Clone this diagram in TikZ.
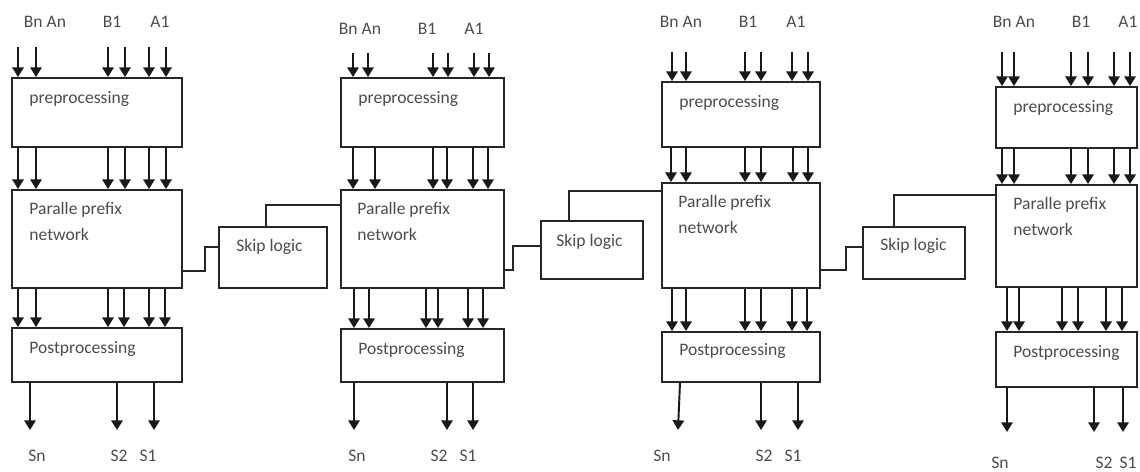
\documentclass[tikz,border=0pt]{standalone}
\usepackage{fontspec}
\setmainfont{Carlito}
\usetikzlibrary{arrows.meta,fit,calc,positioning}

\begin{document}
\begin{tikzpicture}[x=0.02cm,y=-0.02cm]
	\tikzset{arr/.style={-{Triangle[width=6.5pt,length=5.5pt]},line width=1.1pt,draw=black!90}}
	\tikzstyle{blockbox} = [draw=black!85,line width=1.1pt,inner sep=0pt]
	\tikzstyle{wire} = [draw=black!85,line width=1pt]
	\tikzstyle{boxtext} = [anchor=west,inner sep=0pt,text=black!70,font=\fontsize{10}{14.7}\selectfont]
	\tikzstyle{twotext} = [anchor=north west,inner sep=0pt,align=left,text=black!70,font=\fontsize{10}{14.7}\selectfont]
	\tikzstyle{iolabel} = [inner sep=0pt,text=black!70,font=\fontsize{10}{12}\selectfont]
	\useasboundingbox (0,0) rectangle (1140,472);
	% Block 1
	\node[blockbox,fit={(12,78) (182,147)}] (pre1) {};
	\node[blockbox,fit={(12,190) (182,288)}] (ppn1) {};
	\node[blockbox,fit={(12,328) (182,382)}] (post1) {};
	\node[boxtext] at ([shift={(18,22)}]pre1.north west) (pre1_t) {preprocessing};
	\node[twotext] at ([shift={(18,13)}]ppn1.north west) (ppn1_t) {Paralle prefix\\network};
	\node[boxtext] at ([shift={(18,22)}]post1.north west) (post1_t) {Postprocessing};
	\node[iolabel] at (45,22) (bnan1) {Bn An};
	\node[iolabel] at (112,22) (b1_1) {B1};
	\node[iolabel] at (160,22) (a1_1) {A1};
	\coordinate (in1_1) at (18,47);
	\coordinate (in1_2) at (36,47);
	\coordinate (in1_3) at (108,47);
	\coordinate (in1_4) at (125,47);
	\coordinate (in1_5) at (149,47);
	\coordinate (in1_6) at (166,47);
	\draw[arr] (in1_1) -- (in1_1 |- pre1.north);
	\draw[arr] (in1_2) -- (in1_2 |- pre1.north);
	\draw[arr] (in1_3) -- (in1_3 |- pre1.north);
	\draw[arr] (in1_4) -- (in1_4 |- pre1.north);
	\draw[arr] (in1_5) -- (in1_5 |- pre1.north);
	\draw[arr] (in1_6) -- (in1_6 |- pre1.north);
	\draw[arr] (pre1.south -| 18,0) -- (ppn1.north -| 18,0);
	\draw[arr] (pre1.south -| 36,0) -- (ppn1.north -| 36,0);
	\draw[arr] (pre1.south -| 108,0) -- (ppn1.north -| 108,0);
	\draw[arr] (pre1.south -| 125,0) -- (ppn1.north -| 125,0);
	\draw[arr] (pre1.south -| 149,0) -- (ppn1.north -| 149,0);
	\draw[arr] (pre1.south -| 166,0) -- (ppn1.north -| 166,0);
	\draw[arr] (ppn1.south -| 18,0) -- (post1.north -| 18,0);
	\draw[arr] (ppn1.south -| 36,0) -- (post1.north -| 36,0);
	\draw[arr] (ppn1.south -| 108,0) -- (post1.north -| 108,0);
	\draw[arr] (ppn1.south -| 124,0) -- (post1.north -| 124,0);
	\draw[arr] (ppn1.south -| 149,0) -- (post1.north -| 149,0);
	\draw[arr] (ppn1.south -| 165,0) -- (post1.north -| 165,0);
	\coordinate (out1_1) at (30,430);
	\coordinate (out1_2) at (117,430);
	\coordinate (out1_3) at (154,430);
	\draw[arr] (post1.south -| out1_1) -- (out1_1);
	\draw[arr] (post1.south -| out1_2) -- (out1_2);
	\draw[arr] (post1.south -| out1_3) -- (out1_3);
	\node[iolabel] at (37,456) (sn1) {Sn};
	\node[iolabel] at (119,456) (s2_1) {S2};
	\node[iolabel] at (148,456) (s1_1) {S1};
	% Skip logic 1
	\node[blockbox,fit={(219,227) (327,288)}] (skip1) {};
	\node[boxtext] at ([shift={(18,21)}]skip1.north west) (skip1_t) {Skip logic};
	% Block 2
	\node[blockbox,fit={(341,78) (504,147)}] (pre2) {};
	\node[blockbox,fit={(341,190) (504,288)}] (ppn2) {};
	\node[blockbox,fit={(341,329) (504,382)}] (post2) {};
	\node[boxtext] at ([shift={(18,22)}]pre2.north west) (pre2_t) {preprocessing};
	\node[twotext] at ([shift={(17,13)}]ppn2.north west) (ppn2_t) {Paralle prefix\\network};
	\node[boxtext] at ([shift={(18,22)}]post2.north west) (post2_t) {Postprocessing};
	\node[iolabel] at (360,29) (bnan2) {Bn An};
	\node[iolabel] at (427,29) (b1_2) {B1};
	\node[iolabel] at (474,29) (a1_2) {A1};
	\coordinate (in2_1) at (353,53);
	\coordinate (in2_2) at (368,53);
	\coordinate (in2_3) at (433,53);
	\coordinate (in2_4) at (448,53);
	\coordinate (in2_5) at (474,53);
	\coordinate (in2_6) at (489,53);
	\draw[arr] (in2_1) -- (in2_1 |- pre2.north);
	\draw[arr] (in2_2) -- (in2_2 |- pre2.north);
	\draw[arr] (in2_3) -- (in2_3 |- pre2.north);
	\draw[arr] (in2_4) -- (in2_4 |- pre2.north);
	\draw[arr] (in2_5) -- (in2_5 |- pre2.north);
	\draw[arr] (in2_6) -- (in2_6 |- pre2.north);
	\draw[arr] (pre2.south -| 353,0) -- (ppn2.north -| 353,0);
	\draw[arr] (pre2.south -| 375,0) -- (ppn2.north -| 375,0);
	\draw[arr] (pre2.south -| 433,0) -- (ppn2.north -| 433,0);
	\draw[arr] (pre2.south -| 447,0) -- (ppn2.north -| 447,0);
	\draw[arr] (pre2.south -| 473,0) -- (ppn2.north -| 473,0);
	\draw[arr] (pre2.south -| 488,0) -- (ppn2.north -| 488,0);
	\draw[arr] (ppn2.south -| 354,0) -- (post2.north -| 354,0);
	\draw[arr] (ppn2.south -| 369,0) -- (post2.north -| 369,0);
	\draw[arr] (ppn2.south -| 426,0) -- (post2.north -| 426,0);
	\draw[arr] (ppn2.south -| 438,0) -- (post2.north -| 438,0);
	\draw[arr] (ppn2.south -| 468,0) -- (post2.north -| 468,0);
	\draw[arr] (ppn2.south -| 483,0) -- (post2.north -| 483,0);
	\coordinate (out2_1) at (354,430);
	\coordinate (out2_2) at (447,430);
	\coordinate (out2_3) at (473,430);
	\draw[arr] (post2.south -| out2_1) -- (out2_1);
	\draw[arr] (post2.south -| out2_2) -- (out2_2);
	\draw[arr] (post2.south -| out2_3) -- (out2_3);
	\node[iolabel] at (357,456) (sn2) {Sn};
	\node[iolabel] at (439,456) (s2_2) {S2};
	\node[iolabel] at (468,456) (s1_2) {S1};
	% Skip logic 2
	\node[blockbox,fit={(541,221) (643,279)}] (skip2) {};
	\node[boxtext] at ([shift={(16,22)}]skip2.north west) (skip2_t) {Skip logic};
	% Block 3
	\node[blockbox,fit={(662,82) (820,147)}] (pre3) {};
	\node[blockbox,fit={(662,183) (820,288)}] (ppn3) {};
	\node[blockbox,fit={(662,332) (820,382)}] (post3) {};
	\node[boxtext] at ([shift={(18,22)}]pre3.north west) (pre3_t) {preprocessing};
	\node[twotext] at ([shift={(17,13)}]ppn3.north west) (ppn3_t) {Paralle prefix\\network};
	\node[boxtext] at ([shift={(18,20)}]post3.north west) (post3_t) {Postprocessing};
	\node[iolabel] at (681,22) (bnan3) {Bn An};
	\node[iolabel] at (748,22) (b1_3) {B1};
	\node[iolabel] at (796,22) (a1_3) {A1};
	\coordinate (in3_1) at (672,52);
	\coordinate (in3_2) at (686,52);
	\coordinate (in3_3) at (745,52);
	\coordinate (in3_4) at (761,52);
	\coordinate (in3_5) at (792,52);
	\coordinate (in3_6) at (808,52);
	\draw[arr] (in3_1) -- (in3_1 |- pre3.north);
	\draw[arr] (in3_2) -- (in3_2 |- pre3.north);
	\draw[arr] (in3_3) -- (in3_3 |- pre3.north);
	\draw[arr] (in3_4) -- (in3_4 |- pre3.north);
	\draw[arr] (in3_5) -- (in3_5 |- pre3.north);
	\draw[arr] (in3_6) -- (in3_6 |- pre3.north);
	\draw[arr] (pre3.south -| 671,0) -- (ppn3.north -| 671,0);
	\draw[arr] (pre3.south -| 686,0) -- (ppn3.north -| 686,0);
	\draw[arr] (pre3.south -| 745,0) -- (ppn3.north -| 745,0);
	\draw[arr] (pre3.south -| 761,0) -- (ppn3.north -| 761,0);
	\draw[arr] (pre3.south -| 793,0) -- (ppn3.north -| 793,0);
	\draw[arr] (pre3.south -| 808,0) -- (ppn3.north -| 808,0);
	\draw[arr] (ppn3.south -| 672,0) -- (post3.north -| 672,0);
	\draw[arr] (ppn3.south -| 686,0) -- (post3.north -| 686,0);
	\draw[arr] (ppn3.south -| 745,0) -- (post3.north -| 745,0);
	\draw[arr] (ppn3.south -| 761,0) -- (post3.north -| 761,0);
	\draw[arr] (ppn3.south -| 792,0) -- (post3.north -| 792,0);
	\draw[arr] (ppn3.south -| 807,0) -- (post3.north -| 807,0);
	\coordinate (out3_1) at (678,430);
	\coordinate (out3_2) at (761,430);
	\coordinate (out3_3) at (798,430);
	\draw[arr] (post3.south -| 680,0) -- (out3_1);
	\draw[arr] (post3.south -| out3_2) -- (out3_2);
	\draw[arr] (post3.south -| out3_3) -- (out3_3);
	\node[iolabel] at (662,456) (sn3) {Sn};
	\node[iolabel] at (764,456) (s2_3) {S2};
	\node[iolabel] at (793,456) (s1_3) {S1};
	% Skip logic 3
	\node[blockbox,fit={(863,227) (965,279)}] (skip3) {};
	\node[boxtext] at ([shift={(18,20)}]skip3.north west) (skip3_t) {Skip logic};
	% Block 4
	\node[blockbox,fit={(996,87) (1137,148)}] (pre4) {};
	\node[blockbox,fit={(996,185) (1137,287)}] (ppn4) {};
	\node[blockbox,fit={(996,332) (1137,387)}] (post4) {};
	\node[boxtext] at ([shift={(18,22)}]pre4.north west) (pre4_t) {preprocessing};
	\node[twotext] at ([shift={(18,13)}]ppn4.north west) (ppn4_t) {Paralle prefix\\network};
	\node[boxtext] at ([shift={(18,22)}]post4.north west) (post4_t) {Postprocessing};
	\node[iolabel] at (1014,22) (bnan4) {Bn An};
	\node[iolabel] at (1081,22) (b1_4) {B1};
	\node[iolabel] at (1128,22) (a1_4) {A1};
	\coordinate (in4_1) at (1002,52);
	\coordinate (in4_2) at (1014,52);
	\coordinate (in4_3) at (1071,52);
	\coordinate (in4_4) at (1088,52);
	\coordinate (in4_5) at (1114,52);
	\coordinate (in4_6) at (1130,52);
	\draw[arr] (in4_1) -- (in4_1 |- pre4.north);
	\draw[arr] (in4_2) -- (in4_2 |- pre4.north);
	\draw[arr] (in4_3) -- (in4_3 |- pre4.north);
	\draw[arr] (in4_4) -- (in4_4 |- pre4.north);
	\draw[arr] (in4_5) -- (in4_5 |- pre4.north);
	\draw[arr] (in4_6) -- (in4_6 |- pre4.north);
	\draw[arr] (pre4.south -| 1002,0) -- (ppn4.north -| 1002,0);
	\draw[arr] (pre4.south -| 1014,0) -- (ppn4.north -| 1014,0);
	\draw[arr] (pre4.south -| 1071,0) -- (ppn4.north -| 1071,0);
	\draw[arr] (pre4.south -| 1088,0) -- (ppn4.north -| 1088,0);
	\draw[arr] (pre4.south -| 1114,0) -- (ppn4.north -| 1114,0);
	\draw[arr] (pre4.south -| 1130,0) -- (ppn4.north -| 1130,0);
	\draw[arr] (ppn4.south -| 1007,0) -- (post4.north -| 1007,0);
	\draw[arr] (ppn4.south -| 1019,0) -- (post4.north -| 1019,0);
	\draw[arr] (ppn4.south -| 1062,0) -- (post4.north -| 1062,0);
	\draw[arr] (ppn4.south -| 1078,0) -- (post4.north -| 1078,0);
	\draw[arr] (ppn4.south -| 1106,0) -- (post4.north -| 1106,0);
	\draw[arr] (ppn4.south -| 1122,0) -- (post4.north -| 1122,0);
	\coordinate (out4_1) at (1007,432);
	\coordinate (out4_2) at (1094,432);
	\coordinate (out4_3) at (1123,432);
	\draw[arr] (post4.south -| out4_1) -- (out4_1);
	\draw[arr] (post4.south -| out4_2) -- (out4_2);
	\draw[arr] (post4.south -| out4_3) -- (out4_3);
	\node[iolabel] at (1000,463) (sn4) {Sn};
	\node[iolabel] at (1104,463) (s2_4) {S2};
	\node[iolabel] at (1128,463) (s1_4) {S1};
	% Skip wires
	\draw[wire] (ppn1.east |- 0,271) -- (205,271) |- (skip1.west |- 0,247);
	\draw[wire] (skip1.north -| 266,0) |- (ppn2.west |- 0,205);
	\draw[wire] (ppn2.east |- 0,270) -- (513,270) |- (skip2.west |- 0,246);
	\draw[wire] (skip2.north -| 569,0) |- (ppn3.west |- 0,191);
	\draw[wire] (ppn3.east |- 0,270) -- (846,270) |- (skip3.west |- 0,247);
	\draw[wire] (skip3.north -| 894,0) |- (ppn4.west |- 0,195);
\end{tikzpicture}
\end{document}
